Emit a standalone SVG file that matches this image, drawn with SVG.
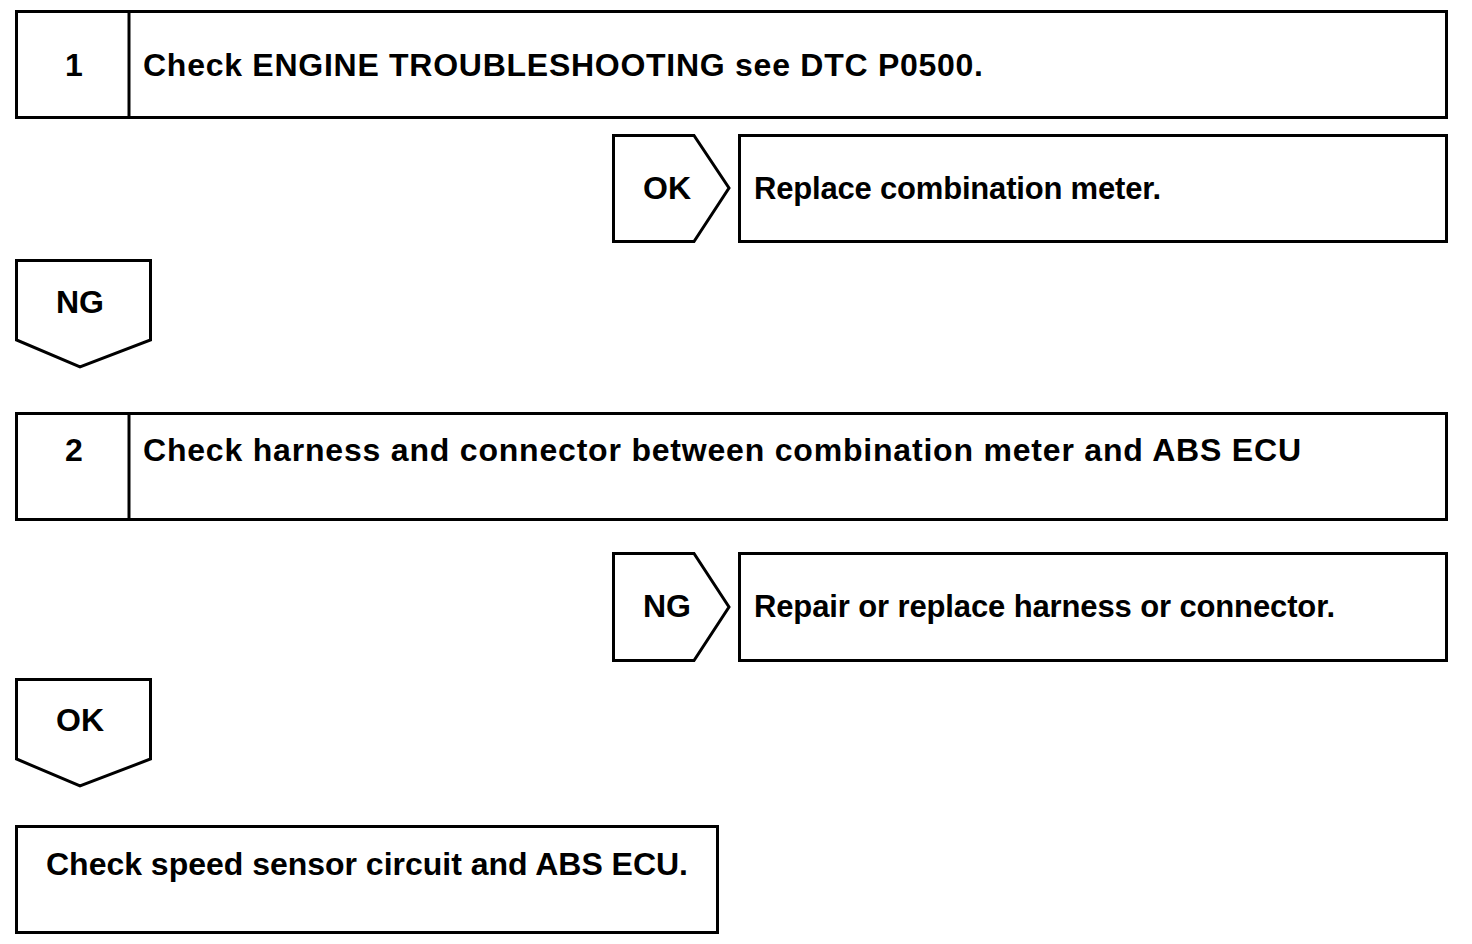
<svg xmlns="http://www.w3.org/2000/svg" width="1472" height="944" viewBox="0 0 1472 944">
<style>
.s{fill:#fff;stroke:#000;stroke-width:3}
.t{font-family:"Liberation Sans",Arial,sans-serif;font-weight:bold;font-size:32px;fill:#000}
.m{text-anchor:middle}
.r{font-size:31px}
</style>
<rect width="1472" height="944" fill="#fff"/>
<g id="step1">
<rect class="s" x="16.5" y="11.5" width="1430" height="106"/>
<line class="s" x1="129" y1="11.5" x2="129" y2="117.5"/>
<text class="t m" x="74" y="76">1</text>
<text class="t" x="143" y="76" textLength="840">Check ENGINE TROUBLESHOOTING see DTC P0500.</text>
</g>
<g id="ok1">
<polygon class="s" points="613.5,135.5 694,135.5 729,188 694,241.5 613.5,241.5"/>
<text class="t m" x="667" y="199">OK</text>
</g>
<g id="result1">
<rect class="s" x="739.5" y="135.5" width="707" height="106"/>
<text class="t r" x="754" y="199" textLength="407">Replace combination meter.</text>
</g>
<g id="ng1">
<polygon class="s" points="16.5,260.5 150.5,260.5 150.5,340 80,367 16.5,340"/>
<text class="t m" x="80" y="313">NG</text>
</g>
<g id="step2">
<rect class="s" x="16.5" y="413.5" width="1430" height="106"/>
<line class="s" x1="129" y1="413.5" x2="129" y2="519.5"/>
<text class="t m" x="74" y="461">2</text>
<text class="t" x="143" y="461" textLength="1158">Check harness and connector between combination meter and ABS ECU</text>
</g>
<g id="ng2">
<polygon class="s" points="613.5,553.5 694,553.5 729,607 694,660.5 613.5,660.5"/>
<text class="t m" x="667" y="617">NG</text>
</g>
<g id="result2">
<rect class="s" x="739.5" y="553.5" width="707" height="107"/>
<text class="t r" x="754" y="617" textLength="581">Repair or replace harness or connector.</text>
</g>
<g id="ok2">
<polygon class="s" points="16.5,679.5 150.5,679.5 150.5,759 80,786 16.5,759"/>
<text class="t m" x="80" y="731">OK</text>
</g>
<g id="final">
<rect class="s" x="16.5" y="826.5" width="701" height="106"/>
<text class="t" x="46" y="875" textLength="642">Check speed sensor circuit and ABS ECU.</text>
</g>
<g id="connectors"></g>
</svg>
